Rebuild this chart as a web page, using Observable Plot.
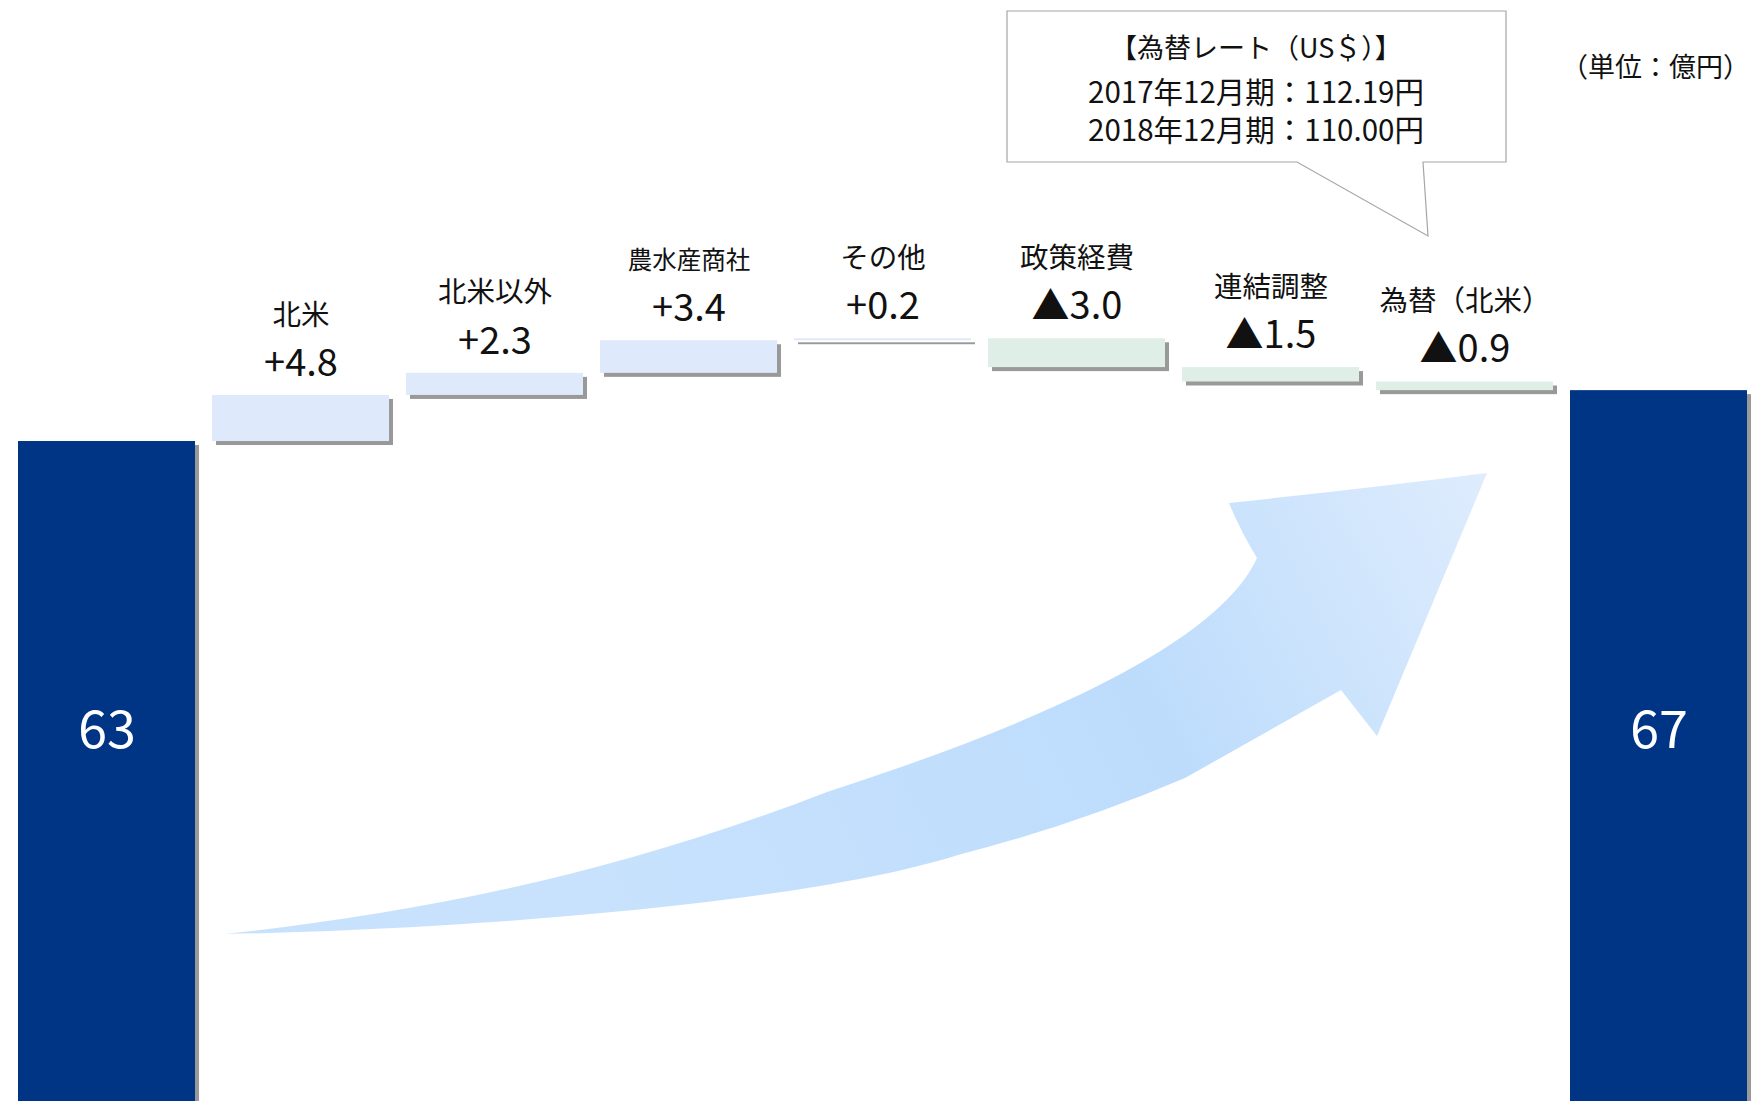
<!DOCTYPE html>
<html>
<head>
<meta charset="utf-8">
<script src="https://cdn.jsdelivr.net/npm/d3@7"></script>
<script src="https://cdn.jsdelivr.net/npm/@observablehq/plot@0.6"></script>
<style>
  html, body { margin: 0; padding: 0; background: #ffffff; overflow: hidden; }
  #chart svg { display: block; }
</style>
</head>
<body>
<div id="chart"></div>
<script>
// ---------- data ----------
const totalKeys   = ["2017年12月期", "2018年12月期"];
const totalLabels = [63, 67];                 // shown (rounded) totals, 億円
const stepNames   = ["北米", "北米以外", "農水産商社", "その他", "政策経費", "連結調整", "為替（北米）"];
const stepValues  = [4.8, 2.3, 3.4, 0.2, -3.0, -1.5, -0.9];
const rateTitle   = "【為替レート（US＄）】";
const ratePeriods = ["2017年12月期", "2018年12月期"];
const rateValues  = [112.19, 110.00];
const unitLabel   = "（単位：億円）";

// ---------- waterfall table ----------
let running = totalLabels[0];
const steps = stepNames.map((name, i) => {
  const y1 = running;
  running += stepValues[i];
  return { name, value: stepValues[i], y1, y2: running, top: Math.max(y1, running) };
});
const totals = [
  { name: totalKeys[0], value: totalLabels[0], label: totalLabels[0] },
  { name: totalKeys[1], value: running, label: totalLabels[1] }   // bar ends where the bridge ends
];
const xDomain = [totalKeys[0], ...stepNames, totalKeys[1]];
const yDomain = [-5.75, 108.94];
const fmt = v => (v >= 0 ? "+" : "▲") + Math.abs(v).toFixed(1);

const FONT = "'Noto Sans CJK JP', 'Noto Sans', sans-serif";

const chart = Plot.plot({
  width: 1758,
  height: 1101,
  margin: 0,
  x: { type: "band", domain: xDomain, range: [18, 1747], paddingInner: 0.0876, paddingOuter: 0, align: 0.5, round: false, axis: null },
  y: { domain: yDomain, axis: null },
  style: { fontFamily: FONT, background: "#ffffff", color: "#000" },
  marks: [
    // shadows
    Plot.barY(totals, { x: "name", y1: yDomain[0], y2: "value", fill: "#555", fillOpacity: 0.6, dx: 4, dy: 4, ariaLabel: "shadow" }),
    Plot.barY(steps, { x: "name", y1: "y1", y2: "y2", fill: "#555", fillOpacity: 0.6, dx: 4, dy: 4, ariaLabel: "shadow" }),
    // bars
    Plot.barY(totals, { x: "name", y1: yDomain[0], y2: "value", fill: "#003585" }),
    Plot.barY(steps.filter(d => d.value >= 0), { x: "name", y1: "y1", y2: "y2", fill: "#dee9fb" }),
    Plot.barY(steps.filter(d => d.value < 0), { x: "name", y1: "y1", y2: "y2", fill: "#dfefe8" }),
    // labels
    Plot.text(steps, { x: "name", y: "top", text: d => fmt(d.value), dy: -32, fontSize: 38, fill: "#111" }),
    Plot.text(steps, { x: "name", y: "top", text: "name", dy: -80,
      fontSize: d => (d.name.length === 5 ? 24.5 : 28.5), fill: "#111" }),
    Plot.text(totals, { x: "name", text: d => String(d.label), frameAnchor: "top", lineAnchor: "middle", dy: 731, fontSize: 52, fill: "#ffffff" })
  ]
});

document.getElementById("chart").appendChild(chart);

// ---------- decorations ----------
const svg = d3.select(chart);
const defs = svg.insert("defs", ":first-child");
defs.append("filter").attr("id", "shadowBlur").attr("x", "-20%").attr("y", "-50%").attr("width", "140%").attr("height", "200%")
  .append("feGaussianBlur").attr("stdDeviation", 3);
const grad = defs.append("linearGradient").attr("id", "arrowGrad")
  .attr("gradientUnits", "userSpaceOnUse").attr("x1", 1480).attr("y1", 470).attr("x2", 600).attr("y2", 930);
grad.append("stop").attr("offset", 0).attr("stop-color", "#deecfd");
grad.append("stop").attr("offset", 0.4).attr("stop-color", "#bddcfc");
grad.append("stop").attr("offset", 1).attr("stop-color", "#c8e2fd");

svg.selectAll('g[aria-label="shadow"]').attr("filter", "url(#shadowBlur)");

// curved arrow (decorative)
svg.insert("path", 'g[aria-label="shadow"]')
  .attr("d", "M225,934 C450,930 800,905 958,855 Q1075,825 1185,778 L1341,690 L1377,736 L1487,473 Q1362,489 1229,503 Q1240,530 1257,558 C1220,640 1050,720 827,792 C600,880 400,915 225,934 Z")
  .attr("fill", "url(#arrowGrad)");

// callout
const callout = svg.append("g");
callout.append("path")
  .attr("d", "M1007,11 H1506 V162 H1423 L1428,236 L1297,162 H1007 Z")
  .attr("fill", "#ffffff").attr("stroke", "#a6a6a6").attr("stroke-width", 1.2);
const calloutLines = [rateTitle, ...ratePeriods.map((p, i) => `${p}：${rateValues[i].toFixed(2)}円`)];
callout.selectAll("text").data(calloutLines).join("text")
  .attr("x", 1256).attr("y", (d, i) => [46, 90, 128][i])
  .attr("text-anchor", "middle").attr("dominant-baseline", "central")
  .attr("font-family", FONT).attr("font-size", (d, i) => (i === 0 ? 27 : 29.5)).attr("fill", "#111")
  .text(d => d);

svg.append("text")
  .attr("x", 1561).attr("y", 65).attr("text-anchor", "start").attr("dominant-baseline", "central")
  .attr("font-family", FONT).attr("font-size", 27).attr("fill", "#111")
  .text(unitLabel);
</script>
</body>
</html>
